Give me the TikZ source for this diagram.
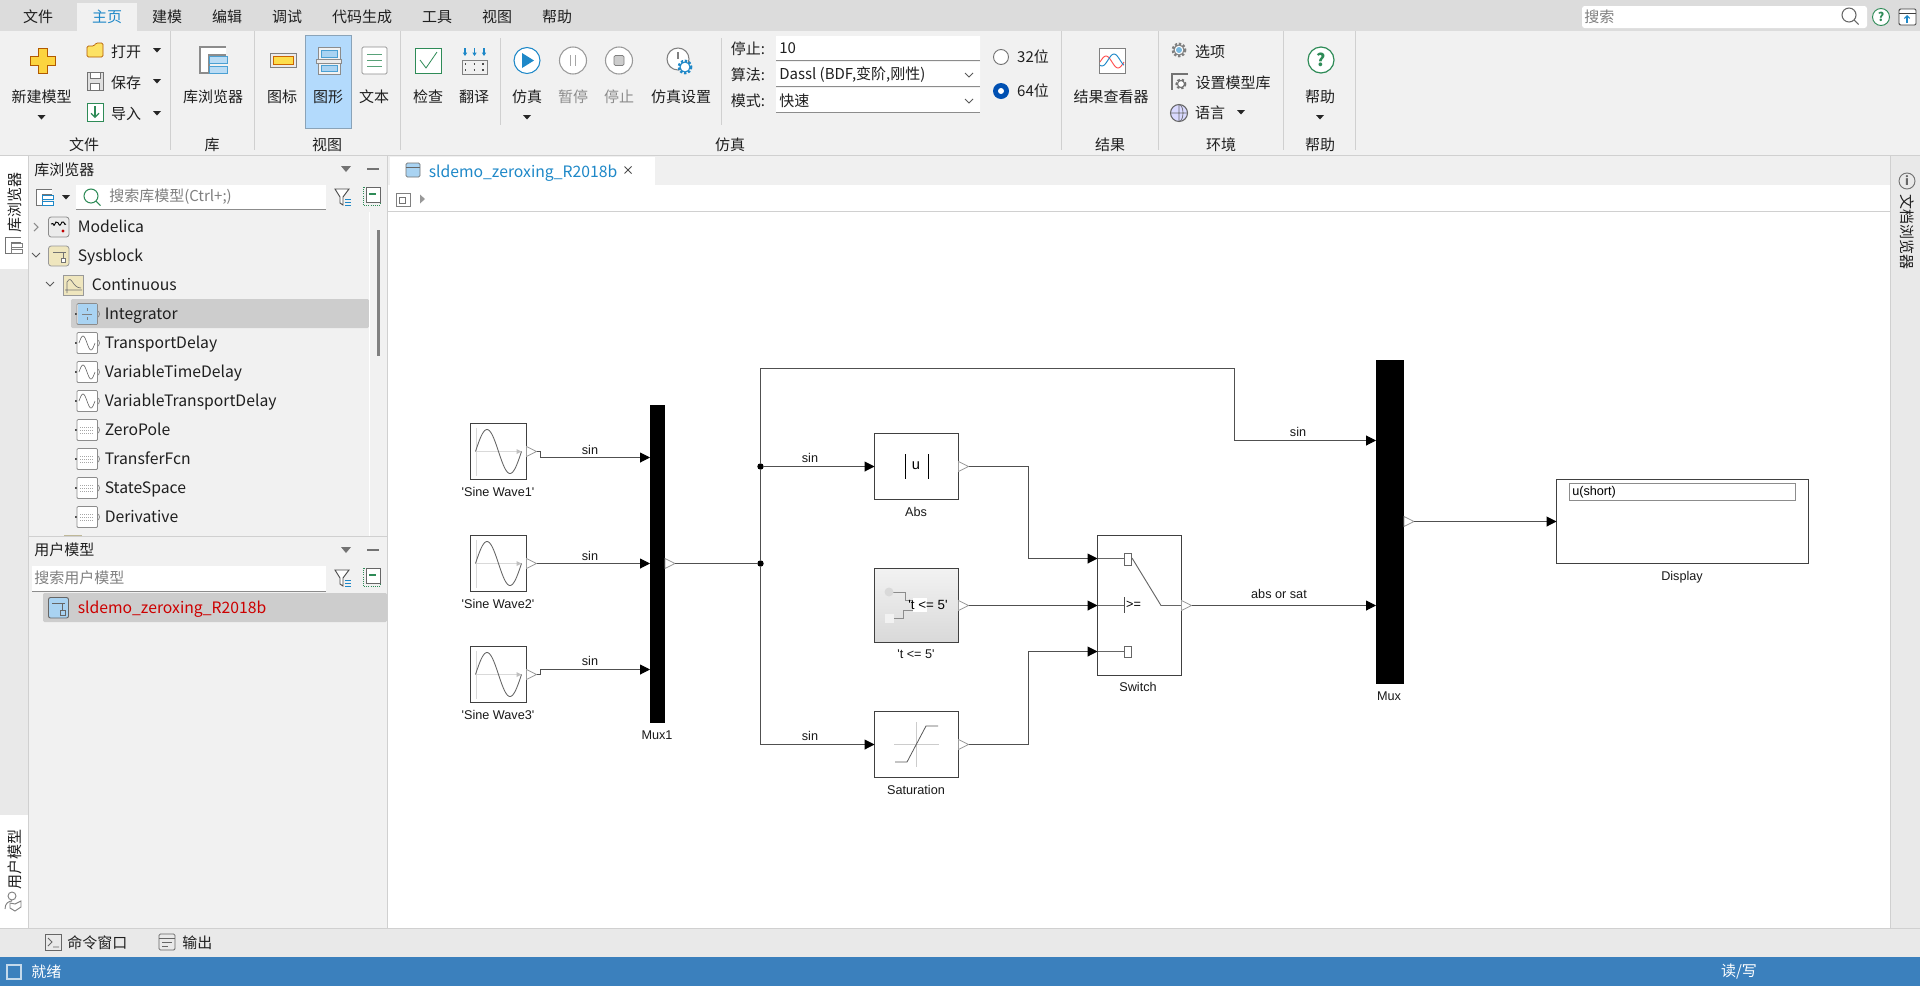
\documentclass[tikz,border=0pt]{standalone}
\usepackage{fontspec}
\setmainfont{Noto Sans CJK SC}
\newfontfamily\blockfont{Liberation Sans}
\usetikzlibrary{arrows.meta}

\definecolor{tabbar}{HTML}{DCDCDC}
\definecolor{ribbon}{HTML}{F1F1F1}
\definecolor{rail}{HTML}{E9E9E9}
\definecolor{edge}{HTML}{D0D0D0}
\definecolor{pick}{HTML}{CDCDCD}
\definecolor{hilite}{HTML}{B3DAFC}
\definecolor{uiblue}{HTML}{1E88C8}
\definecolor{paleblue}{HTML}{A9D3F2}
\definecolor{uigreen}{HTML}{2E8B57}
\definecolor{tan}{HTML}{EFE6BE}
\definecolor{status}{HTML}{3B80BD}
\definecolor{wire}{HTML}{505050}

\tikzset{
  uitext/.style={inner sep=0, font=\fontsize{11.25}{13}\selectfont, text=black!88},
  uileft/.style={uitext, anchor=west},
  treetext/.style={uileft, font=\fontsize{11.8}{13}\selectfont, text height=9.5pt, text depth=1.2pt},
  dimtext/.style={uitext, text=black!45},
  hinttext/.style={uileft, text=black!50},
  field/.style={fill=white, draw=none},
  sepline/.style={draw=edge, line width=.75pt},
  block/.style={draw=black!75, fill=white, line width=.75pt, inner sep=0, outer sep=0},
  muxbar/.style={fill=black, inner sep=0, outer sep=0},
  blocklabel/.style={inner sep=0, font=\blockfont\fontsize{9.5}{11}\selectfont, text=black!90},
  siglabel/.style={blocklabel},
  sig/.style={draw=wire, line width=.75pt},
  sigarrow/.style={sig, -{Triangle[length=7.5pt,width=7.5pt,color=black]}},
  junction/.style={circle, fill=black, inner sep=0, minimum size=4.8pt},
  outport/.pic={\draw[black!40, line width=.6pt] (0,-5) -- (10,0) -- (0,5) -- cycle;},
  dropmark/.pic={\fill[black!85] (-4,-2) -- (4,-2) -- (0,2.5) -- cycle;},
  chevron/.pic={\draw[black!65, line width=.7pt] (-4,-2) -- (0,2) -- (4,-2);},
  sidemark/.pic={\draw[black!45, line width=.8pt] (-2,-4) -- (2,0) -- (-2,4);},
  magglass/.pic={\draw[#1, line width=.8pt] (-1,-1) circle[radius=7] (4,4) -- (8.5,8.5);},
  gearmark/.pic={
    \draw[#1, line width=2pt, dash pattern=on 1.7pt off 1.3pt] (0,0) circle[radius=6];
    \draw[#1, fill=white, line width=.8pt] (0,0) circle[radius=5];
  },
  libicon/.pic={
    \draw[black!45, fill=white, line width=1.1pt] (13,-13) -- (-13,-13) -- (-13,13) -- (-4,13) -- (-4,-5) -- (13,-5);
    \draw[uiblue!80, fill=paleblue!80, line width=.7pt] (-4,-4) rectangle (14,3);
    \draw[uiblue!80, fill=paleblue!80, line width=.7pt] (-4,6) rectangle (14,13);
  },
  smalllib/.pic={
    \draw[black!55, fill=white, line width=.7pt] (8,-8) -- (-8,-8) -- (-8,8) -- (-2,8) -- (-2,-3) -- (8,-3);
    \draw[#1, fill=white, line width=.7pt] (-2,-2) rectangle (9,2) (-2,4) rectangle (9,8);
  },
  filtericon/.pic={
    \draw[black!70, fill=white, line width=.7pt] (-7,-8) -- (7,-8) -- (1,0) -- (1,8) -- (-2,6) -- (-2,0) -- cycle;
    \draw[uiblue, line width=.7pt] (3,2) -- (9,2) (3,5) -- (9,5) (3,8) -- (9,8);
  },
  collapseicon/.pic={
    \draw[uigreen, densely dotted, line width=.6pt] (-9,-9) rectangle (8,9);
    \draw[black!60, fill=white, line width=.7pt] (-6,-9) rectangle (8,6);
    \draw[uigreen, line width=.9pt] (-3,-2) -- (4,-2);
  },
  leaficon/.pic={
    \fill[black!70] (-12,-1) rectangle (-10,1);
    \draw[black!45, fill=white, line width=.6pt, rounded corners=.8pt] (-10,-10.5) rectangle (10.5,10.5);
    \draw[black!50, line width=.5pt] (11.5,-3) -- (12.5,0) -- (11.5,3);
  },
  wavemark/.pic={
    \draw[black!60, line width=.45pt] plot[domain=-1:1, samples=25] ({\x*8},{-7*sin(180*(\x+1))});
  },
  tablemark/.pic={
    \draw[black!35, densely dotted, line width=.5pt] (-7,-3) -- (7,-3) (-7,0) -- (7,0) (-7,3) -- (7,3);
  },
  sineicon/.pic={
    \draw[black!15, line width=.7pt] (-23,0) -- (23,0) (-22,-24) -- (-22,24);
    \fill[black!25] (18,-2.5) -- (23,0) -- (18,2.5) -- cycle;
    \draw[black!60, line width=.65pt] plot[domain=-1:1, samples=41] ({\x*23},{-22*sin(180*(\x+1))});
  },
}

\begin{document}
\begin{tikzpicture}[x=0.75pt, y=-0.75pt]
  \useasboundingbox (0,0) rectangle (1920,986);

  % window areas
  \fill[white] (0,0) rectangle (1920,986);
  \fill[tabbar] (0,0) rectangle (1920,31);
  \fill[ribbon] (0,31) rectangle (1920,155);
  \fill[ribbon] (77,3) rectangle (137,31);
  \fill[rail] (0,155) rectangle (29,928);
  \fill[white] (0,155) rectangle (28,269);
  \fill[white] (0,815) rectangle (28,928);
  \fill[ribbon] (29,155) rectangle (387,928);
  \fill[rail] (1891,155) rectangle (1920,928);
  \fill[black!6] (388,155) rectangle (1891,185);
  \fill[white] (390,157) rectangle (655,185);
  \draw[sepline] (0,155) -- (1920,155);
  \draw[sepline] (28.5,155) -- (28.5,928) (387.5,155) -- (387.5,928) (1890.5,155) -- (1890.5,928);
  \draw[sepline] (388,211.5) -- (1890,211.5);
  \fill[rail] (0,928) rectangle (1920,957);
  \draw[sepline] (0,928) -- (1920,928);
  \fill[status] (0,957) rectangle (1920,986);

  % menu tabs
  \node[uitext] (menufile) at (38,17) {文件};
  \node[uitext, text=uiblue] (menuhome) at (107,17) {主页};
  \node[uitext] (menumodel) at (167,17) {建模};
  \node[uitext] (menuedit) at (227,17) {编辑};
  \node[uitext] (menudebug) at (287,17) {调试};
  \node[uitext] (menucode) at (362,17) {代码生成};
  \node[uitext] (menutools) at (437,17) {工具};
  \node[uitext] (menuview) at (497,17) {视图};
  \node[uitext] (menuhelp) at (557,17) {帮助};
  \fill[white, rounded corners=2pt] (1582,6) rectangle (1867,28);
  \node[hinttext] (topsearch) at (1584,17) {搜索};
  \pic at (1850,16) {magglass=black!60};
  \draw[uigreen, fill=white, line width=.7pt] (1881,17) circle[radius=8.5];
  \node[uitext, text=uigreen, font=\bfseries\fontsize{9}{10}\selectfont] (tophelp) at (1881,17) {?};
  \draw[black!75, fill=white, line width=.7pt, rounded corners=1pt] (1899,9) rectangle (1916,25);
  \draw[black!75, line width=.6pt] (1899,13) -- (1916,13);
  \draw[uiblue, line width=.8pt, -{Straight Barb[length=2pt]}] (1907,23) -- (1907,15);

  % ribbon separators
  \draw[sepline] (170,31) -- (170,150) (254,31) -- (254,150) (400,31) -- (400,150);
  \draw[sepline] (1061,31) -- (1061,150) (1158,31) -- (1158,150) (1283,31) -- (1283,150) (1355,31) -- (1355,150);
  \draw[sepline] (500,38) -- (500,125) (721,38) -- (721,125);

  % group names
  \node[uitext] (groupfile) at (84,145) {文件};
  \node[uitext] (grouplib) at (212,145) {库};
  \node[uitext] (groupview) at (327,145) {视图};
  \node[uitext] (groupsim) at (730,145) {仿真};
  \node[uitext] (groupresult) at (1110,145) {结果};
  \node[uitext] (groupenv) at (1221,145) {环境};
  \node[uitext] (grouphelp) at (1320,145) {帮助};

  % file group
  \draw[orange!70!black, fill=yellow!60!orange!75, line width=.5pt]
    (38,48) -- (47,48) -- (47,56.5) -- (55,56.5) -- (55,65.5) -- (47,65.5) -- (47,73) -- (38,73) -- (38,65.5) -- (30,65.5) -- (30,56.5) -- (38,56.5) -- cycle;
  \node[uitext] (newmodel) at (41.5,97) {新建模型};
  \pic at (41.5,117) {dropmark};
  \draw[orange!70!black, fill=yellow!70!orange!60, line width=.5pt, rounded corners=1pt] (87,46) -- (87,57) -- (103,57) -- (103,43) -- (96,43) -- (94,46) -- cycle;
  \node[uitext] (openfile) at (126,52) {打开};
  \pic at (157,50) {dropmark};
  \draw[black!55, fill=black!12, line width=.7pt] (87,72) rectangle (103,90);
  \draw[black!55, fill=white, line width=.5pt] (90,72) rectangle (100,78) (90,83) rectangle (99,90);
  \node[uitext] (savefile) at (126,83) {保存};
  \pic at (157,81) {dropmark};
  \draw[uigreen, fill=white, line width=.7pt] (87,103) rectangle (103,121);
  \draw[uigreen, line width=.8pt, -{Straight Barb[length=3pt]}] (95,106) -- (95,118);
  \node[uitext] (importfile) at (126,114) {导入};
  \pic at (157,113) {dropmark};

  % library and view groups
  \pic at (213,60) {libicon};
  \node[uitext] (libbrowser) at (213,97) {库浏览器};
  \fill[hilite] (305,35) rectangle (351,128);
  \draw[hilite!70!black!90, line width=.4pt] (305,35) rectangle (351,128);
  \draw[black!50, fill=black!8, line width=.6pt] (270,53) rectangle (296,67);
  \draw[orange!80!black, fill=yellow!70!orange!70, line width=.6pt] (273,56) rectangle (293,64);
  \node[uitext] (viewicon) at (282,97) {图标};
  \draw[black!45, fill=black!5, line width=.6pt] (318,47) rectangle (340,74);
  \draw[uiblue!80, fill=paleblue, line width=.7pt] (321,50) rectangle (337,57);
  \draw[uiblue!80, fill=paleblue, line width=.7pt] (321,65) rectangle (337,71);
  \draw[black!45, fill=black!8, line width=.6pt] (316,59) rectangle (341,63);
  \node[uitext] (viewdiagram) at (328,97) {图形};
  \draw[black!45, fill=white, line width=.6pt, rounded corners=1pt] (362,47) rectangle (387,74);
  \draw[uigreen!80, line width=.6pt] (367,54) -- (382,54) (367,60) -- (382,60) (367,66) -- (382,66);
  \node[uitext] (viewtext) at (374,97) {文本};

  % simulation group
  \draw[uigreen, fill=white, line width=.6pt] (415.5,48) rectangle (441,73);
  \draw[uigreen, line width=.6pt] (420,60) -- (426,68) -- (437,52);
  \node[uitext] (checkmodel) at (428,97) {检查};
  \draw[uiblue, line width=.8pt, -{Triangle[length=2.5pt,width=3pt]}] (465,48) -- (465,56);
  \draw[uiblue, line width=.8pt, -{Triangle[length=2.5pt,width=3pt]}] (474.5,48) -- (474.5,56);
  \draw[uiblue, line width=.8pt, -{Triangle[length=2.5pt,width=3pt]}] (484,48) -- (484,56);
  \draw[black!50, fill=black!6, line width=.6pt] (462,60) rectangle (487,74);
  \draw[black!70, line width=1pt, dash pattern=on 1pt off 5.5pt] (465,64) -- (486,64) (465,70) -- (486,70);
  \node[uitext] (translate) at (474,97) {翻译};
  \draw[uiblue, fill=white, line width=.8pt] (527,60.5) circle[radius=13];
  \fill[uiblue] (522,53) -- (534,60.5) -- (522,68) -- cycle;
  \node[uitext] (simrun) at (527,97) {仿真};
  \pic at (527,117) {dropmark};
  \draw[black!40, fill=white, line width=.8pt] (573,60.5) circle[radius=13.5];
  \draw[black!35, line width=.9pt] (570.5,55) -- (570.5,66) (575.5,55) -- (575.5,66);
  \node[dimtext] (simpause) at (573,97) {暂停};
  \draw[black!40, fill=white, line width=.8pt] (619,60.5) circle[radius=13.5];
  \draw[black!50, fill=black!20, line width=.5pt, rounded corners=1pt] (614,55.5) rectangle (624,65.5);
  \node[dimtext] (simstop) at (619,97) {停止};
  \draw[black!50, fill=white, line width=.8pt] (678,59) circle[radius=11];
  \draw[black!50, line width=.8pt] (678,52) -- (678,59);
  \pic at (685,67) {gearmark=uiblue};
  \node[uitext] (simsetup) at (681,97) {仿真设置};

  % simulation fields
  \node[uitext] (stoplabel) at (748,49) {停止:};
  \node[uitext] (methodlabel) at (748,75) {算法:};
  \node[uitext] (modelabel) at (748,101) {模式:};
  \path[field] (776,36) rectangle (980,60) (776,62) rectangle (980,86) (776,88) rectangle (980,112);
  \draw[black!45, line width=.6pt] (776,60) -- (980,60) (776,86) -- (980,86) (776,112) -- (980,112);
  \node[uileft] (stopfield) at (779,48) {10};
  \node[uileft] (methodfield) at (779,75) {Dassl (BDF,变阶,刚性)};
  \node[uileft] (modefield) at (779,101) {快速};
  \pic at (969,75) {chevron};
  \pic at (969,101) {chevron};
  \draw[black!55, fill=white, line width=.7pt] (1001,57) circle[radius=7.5];
  \node[uitext] (bits32) at (1033,57) {32位};
  \fill[blue!55!cyan!70!black] (1001,91) circle[radius=8];
  \fill[white] (1001,91) circle[radius=3];
  \node[uitext] (bits64) at (1033,91) {64位};

  % result, environment and help groups
  \draw[black!50, fill=white, line width=.6pt] (1099,48) rectangle (1125,73);
  \draw[red!70, line width=.7pt] plot[domain=-1:1, samples=21] ({1112+\x*12},{62-6*sin(180*(\x+1))});
  \draw[uiblue, line width=.7pt] plot[domain=-1:1, samples=21] ({1112+\x*12},{60+6*sin(180*(\x+1)+60)});
  \node[uitext] (resultviewer) at (1111,97) {结果查看器};
  \pic at (1179,50) {gearmark=black!50};
  \fill[uiblue!60] (1179,50) circle[radius=3];
  \node[uitext] (optionsitem) at (1210,52) {选项};
  \draw[black!55, line width=1.2pt] (1188,74) -- (1172,74) -- (1172,90);
  \pic[scale=.7] at (1181,84) {gearmark=black!55};
  \node[uitext] (setlibrary) at (1233,83) {设置模型库};
  \draw[black!60, fill=blue!15, line width=.8pt] (1179,113) circle[radius=8.5];
  \draw[black!60, line width=.5pt] (1170.5,113) -- (1187.5,113) (1179,104.5) -- (1179,121.5) (1179,104.5) arc[start angle=-90, end angle=90, x radius=4, y radius=8.5];
  \node[uitext] (language) at (1210,113) {语言};
  \pic at (1241,112) {dropmark};
  \draw[uigreen, fill=white, line width=.9pt] (1321,60) circle[radius=13];
  \node[uitext, text=uigreen, font=\bfseries\fontsize{13}{14}\selectfont] (helpmark) at (1321,60) {?};
  \node[uitext] (helpitem) at (1320,97) {帮助};
  \pic at (1320,117) {dropmark};

  % side tabs
  \node[uitext, rotate=90] (railbrowser) at (15,202) {库浏览器};
  \pic at (13,245) {smalllib=black!50};
  \node[uitext, rotate=90] (railuser) at (15,859) {用户模型};
  \draw[black!50, line width=.7pt] (12,896) circle[radius=4] (5,909) .. controls (5,903) and (9,901) .. (12,901);
  \draw[black!50, fill=white, line width=.7pt] (15,904) -- (21,901) -- (21,907) -- (15,911) -- (10,908) -- (10,903) -- cycle;
  \draw[black!55, line width=.7pt] (1907,181) circle[radius=8];
  \node[uitext, font=\bfseries\itshape\fontsize{9}{10}\selectfont, text=black!60] (railinfo) at (1907,181) {i};
  \node[uitext, rotate=-90] (raildoc) at (1907,232) {文档浏览器};

  % library browser panel
  \node[uileft] (libtitle) at (34,170) {库浏览器};
  \fill[black!55] (341,166) -- (351,166) -- (346,172) -- cycle;
  \draw[black!55, line width=1.2pt] (367,169) -- (379,169);
  \pic at (44,197) {smalllib=uiblue};
  \pic at (66,197) {dropmark};
  \fill[white] (76,185) rectangle (326,209);
  \draw[black!45, line width=.6pt] (76,209) -- (326,209);
  \pic at (92,197) {magglass=uigreen};
  \node[hinttext] (libsearch) at (109,197) {搜索库模型(Ctrl+;)};
  \pic at (342,197) {filtericon};
  \pic at (372,196) {collapseicon};

  % library tree
  \fill[pick, rounded corners=1pt] (71,299) rectangle (369,328);
  \draw[white, line width=.6pt] (369.5,212) -- (369.5,536);
  \fill[black!50] (376.5,230) rectangle (380,356);

  \pic at (36,227) {sidemark};
  \draw[black!45, fill=black!8, line width=.6pt, rounded corners=2pt] (48.5,217) rectangle (69,237);
  \draw[black, line width=.7pt] (51,224) .. controls (55,221) and (52,230) .. (56,222) .. controls (60,221) and (58,230) .. (62,222) .. controls (65,221) and (64,226) .. (66,224);
  \fill[red!75!black] (63,231) circle[radius=1.6];
  \node[treetext] (treemodelica) at (77.5,227) {Modelica};
  \pic at (36,255) {chevron};
  \draw[black!40, fill=tan, line width=.6pt, rounded corners=2pt] (48.5,246) rectangle (69,266);
  \draw[black!55, line width=.5pt] (53,252) -- (66,252) (63,252) -- (63,258);
  \draw[black!55, fill=white, line width=.5pt] (61,258) rectangle (65,262);
  \node[treetext] (treesysblock) at (77.5,256) {Sysblock};
  \pic at (50,284) {chevron};
  \draw[black!40, fill=tan, line width=.6pt] (63,275) rectangle (83,295);
  \draw[black!55, line width=.5pt] (65,290) -- (82,290) (67,293) -- (67,282) .. controls (72,274) and (72,288) .. (81,288);
  \node[treetext] (treecontinuous) at (91.5,285) {Continuous};

  \pic at (87,314) {leaficon};
  \fill[paleblue] (77.5,304) rectangle (97,324);
  \draw[black!50, line width=.4pt] (82,314) -- (92,314) (87,308) -- (87,311) (87,317) -- (87,320);
  \node[treetext] (treeintegrator) at (104.5,314) {Integrator};
  \pic at (87,343) {leaficon};
  \pic at (87,343) {wavemark};
  \node[treetext] (treetdelay) at (104.5,343) {TransportDelay};
  \pic at (87,372) {leaficon};
  \pic at (87,372) {wavemark};
  \node[treetext] (treevtd) at (104.5,372) {VariableTimeDelay};
  \pic at (87,401) {leaficon};
  \pic at (87,401) {wavemark};
  \node[treetext] (treevtrd) at (104.5,401) {VariableTransportDelay};
  \pic at (87,430) {leaficon};
  \pic at (87,430) {tablemark};
  \node[treetext] (treezeropole) at (104.5,430) {ZeroPole};
  \pic at (87,459) {leaficon};
  \pic at (87,459) {tablemark};
  \node[treetext] (treetransfer) at (104.5,459) {TransferFcn};
  \pic at (87,488) {leaficon};
  \pic at (87,488) {tablemark};
  \node[treetext] (treestate) at (104.5,488) {StateSpace};
  \pic at (87,517) {leaficon};
  \pic at (87,517) {tablemark};
  \node[treetext] (treederivative) at (104.5,517) {Derivative};
  \fill[tan!80!black] (64,535) rectangle (82,536);

  % user model panel
  \draw[sepline] (29,536.5) -- (387,536.5);
  \fill[ribbon] (29,537) rectangle (387,928);
  \node[uileft] (usertitle) at (34,550) {用户模型};
  \fill[black!55] (341,547) -- (351,547) -- (346,553) -- cycle;
  \draw[black!55, line width=1.2pt] (367,550) -- (379,550);
  \fill[white] (32,566) rectangle (326,591);
  \draw[black!45, line width=.6pt] (32,591) -- (326,591);
  \node[hinttext] (usersearch) at (34,578) {搜索用户模型};
  \pic at (342,578) {filtericon};
  \pic at (372,577) {collapseicon};
  \fill[pick, rounded corners=1pt] (43,593) rectangle (387,622);
  \draw[black!60, fill=paleblue, line width=.7pt, rounded corners=1.5pt] (48.5,597.5) rectangle (68.5,618);
  \draw[black!60, line width=.5pt] (52,603) -- (65,603) (62,603) -- (62,610);
  \draw[black!60, line width=.5pt] (60,610) rectangle (65,615);
  \node[treetext, text=red!80!black] (usermodelname) at (77.5,608) {sldemo\_zeroxing\_R2018b};

  % model tab and its toolbar
  \draw[black!55, fill=paleblue, line width=.6pt, rounded corners=1pt] (406,163) rectangle (420,177);
  \draw[black!60, line width=.5pt] (406,167) -- (420,167);
  \node[treetext, text=uiblue] (modeltab) at (428.5,172) {sldemo\_zeroxing\_R2018b};
  \draw[black!70, line width=.6pt] (624.5,166.5) -- (631.5,173.5) (631.5,166.5) -- (624.5,173.5);
  \draw[black!50, line width=.6pt] (396,193) rectangle (410,206);
  \draw[black!55, fill=white, line width=.5pt] (399,197) rectangle (405,203);
  \fill[black!40] (420,194.5) -- (425,199) -- (420,203.5) -- cycle;

  % status bars
  \draw[black!60, line width=.6pt] (45,934) rectangle (61,950);
  \draw[black!60, line width=.6pt] (48,938) -- (52,942) -- (48,946) (53,947) -- (59,947);
  \node[uileft] (cmdwindow) at (67,943) {命令窗口};
  \draw[black!60, line width=.6pt, rounded corners=1pt] (159,934) rectangle (175,950);
  \draw[black!60, line width=.6pt] (159,938) -- (175,938) (162,942) -- (172,942) (162,946) -- (168,946);
  \node[uileft] (outwindow) at (182,943) {输出};
  \draw[white!70!status, line width=.8pt] (7,965) rectangle (21,979);
  \node[uileft, text=white] (statusready) at (31,972) {就绪};
  \node[uitext, text=white] (statusmode) at (1739,972) {读/写};

  % source blocks
  \node[block, minimum width=42pt, minimum height=42pt] (sine1) at (498.5,451.5) {};
  \pic at (498.5,451.5) {sineicon};
  \node[block, minimum width=42pt, minimum height=42pt] (sine2) at (498.5,563.5) {};
  \pic at (498.5,563.5) {sineicon};
  \node[block, minimum width=42pt, minimum height=42pt] (sine3) at (498.5,674.5) {};
  \pic at (498.5,674.5) {sineicon};
  \node[blocklabel] (sine1name) at (498,492) {'Sine Wave1'};
  \node[blocklabel] (sine2name) at (498,604) {'Sine Wave2'};
  \node[blocklabel] (sine3name) at (498,715) {'Sine Wave3'};

  % mux blocks
  \node[muxbar, minimum width=11.25pt, minimum height=238.5pt] (mux1) at (657.5,563.5) {};
  \node[blocklabel] (mux1name) at (657,735) {Mux1};
  \node[muxbar, minimum width=21pt, minimum height=243pt] (mux2) at (1390,521.5) {};
  \node[blocklabel] (mux2name) at (1389,696) {Mux};

  % function blocks
  \node[block, minimum width=63pt, minimum height=49.5pt] (absblock) at (916.5,466.5) {};
  \draw[black, line width=.75pt] (905.5,454) -- (905.5,479) (928.5,454) -- (928.5,479);
  \node[inner sep=0, font=\blockfont\fontsize{11}{12}\selectfont] (absmark) at (916,466) {u};
  \node[blocklabel] (absname) at (916,512) {Abs};

  \node[block, top color=black!5, bottom color=black!15, minimum width=63pt, minimum height=55.5pt] (cmpblock) at (916.5,605.5) {};
  \draw[black!45, line width=.7pt] (889,592) -| (905,600) -- (914,600) (889,618) -- (903,618) |- (914,610);
  \fill[white!85!black] (889,592) circle[radius=4.5];
  \fill[white!95!black] (884.5,613.5) rectangle (893.5,622.5);
  \fill[white] (913,598) rectangle (927,612);
  \node[inner sep=0, font=\blockfont\fontsize{10}{10}\selectfont] (cmpmark) at (928,605) {'t <= 5'};
  \node[blocklabel] (cmpname) at (916,654) {'t <= 5'};

  \node[block, minimum width=63pt, minimum height=49.5pt] (satblock) at (916.5,744.5) {};
  \draw[black!20, line width=.6pt] (894,744.5) -- (939,744.5) (916.5,722) -- (916.5,767);
  \draw[black!65, line width=.6pt] (895,762) -- (907,762) -- (926,726) -- (938,726);
  \node[blocklabel] (satname) at (916,790) {Saturation};

  \node[block, minimum width=63pt, minimum height=105pt] (switchblock) at (1139.5,605.5) {};
  \draw[black!60, line width=.6pt] (1097.5,558.5) -- (1124,558.5) (1097.5,605.5) -- (1124,605.5) (1097.5,651.5) -- (1124,651.5);
  \draw[black!60, fill=white, line width=.6pt] (1124.5,553) rectangle (1131.5,565);
  \draw[black!60, fill=white, line width=.6pt] (1124.5,646) rectangle (1131.5,657);
  \draw[black!70, line width=.6pt] (1124.5,597) -- (1124.5,613);
  \draw[black!60, line width=.7pt] (1132,558) -- (1161,605.5) -- (1181,605.5);
  \node[inner sep=0, font=\blockfont\fontsize{9.5}{10}\selectfont] (switchmark) at (1133.5,605) {>=};
  \node[blocklabel] (switchname) at (1138,687) {Switch};

  \node[block, minimum width=189pt, minimum height=63pt] (display) at (1682.5,521.5) {};
  \draw[black!45, fill=white, line width=.75pt] (1569.5,483.5) rectangle (1795.5,500.5);
  \node[inner sep=0, anchor=west, font=\blockfont\fontsize{9.5}{11}\selectfont] (dispvalue) at (1572,492) {u(short)};
  \node[blocklabel] (dispname) at (1682,577) {Display};

  % output ports
  \pic at (sine1.east) {outport};
  \pic at (sine2.east) {outport};
  \pic at (sine3.east) {outport};
  \pic at (mux1.east) {outport};
  \pic at (absblock.east) {outport};
  \pic at (cmpblock.east) {outport};
  \pic at (satblock.east) {outport};
  \pic at (switchblock.east) {outport};
  \pic at (mux2.east) {outport};
  \coordinate (sine1out) at ([xshift=7.5pt]sine1.east);
  \coordinate (sine2out) at ([xshift=7.5pt]sine2.east);
  \coordinate (sine3out) at ([xshift=7.5pt]sine3.east);
  \coordinate (mux1out) at ([xshift=7.5pt]mux1.east);
  \coordinate (absout) at ([xshift=7.5pt]absblock.east);
  \coordinate (cmpout) at ([xshift=7.5pt]cmpblock.east);
  \coordinate (satout) at ([xshift=7.5pt]satblock.east);
  \coordinate (switchout) at ([xshift=7.5pt]switchblock.east);
  \coordinate (mux2out) at ([xshift=7.5pt]mux2.east);

  % sine wires
  \draw[sigarrow] (sine1out) -- ++(4,0) |- (mux1.west |- 0,457.5);
  \draw[sigarrow] (sine2out) -- (mux1.west |- sine2out);
  \draw[sigarrow] (sine3out) -- ++(4,0) |- (mux1.west |- 0,669.5);
  \node[siglabel] (sin1) at (590,450) {sin};
  \node[siglabel] (sin2) at (590,556) {sin};
  \node[siglabel] (sin3) at (590,661) {sin};

  % branch wires
  \node[junction] (joinmid) at (760.5,563.5) {};
  \node[junction] (jointop) at (760.5,466.5) {};
  \draw[sig] (mux1out) -- (joinmid);
  \draw[sig] (joinmid) -- (jointop);
  \draw[sigarrow] (jointop) -- (absblock.west);
  \draw[sigarrow] (joinmid) |- (satblock.west);
  \draw[sigarrow] (jointop) |- (1234.5,368.5) |- (mux2.west |- 0,440.5);
  \node[siglabel] (sin4) at (810,457.5) {sin};
  \node[siglabel] (sin5) at (810,735.5) {sin};
  \node[siglabel] (sin6) at (1298,432) {sin};

  % switch wires
  \draw[sigarrow] (absout) -| (1028.5,500) |- (switchblock.west |- 0,558.5);
  \draw[sigarrow] (cmpout) -- (switchblock.west);
  \draw[sigarrow] (satout) -| (1028.5,700) |- (switchblock.west |- 0,651.5);
  \draw[sigarrow] (switchout) -- (mux2.west |- switchout);
  \node[siglabel] (absorsat) at (1279,593.5) {abs or sat};
  \draw[sigarrow] (mux2out) -- (display.west);
\end{tikzpicture}
\end{document}
